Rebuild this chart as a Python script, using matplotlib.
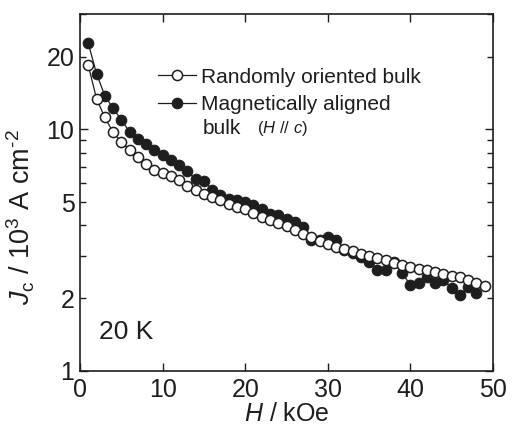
import matplotlib
matplotlib.use("Agg")
import matplotlib.pyplot as plt
from matplotlib.ticker import FixedLocator, FixedFormatter

plt.rcParams['font.family'] = ['Liberation Sans', 'DejaVu Sans']
plt.rcParams['mathtext.fontset'] = 'custom'
plt.rcParams['mathtext.rm'] = 'Liberation Sans'
plt.rcParams['mathtext.it'] = 'Liberation Sans:italic'

# Field values (kOe)
h_random = [1, 2, 3, 4, 5, 6, 7, 8, 9, 10, 11, 12, 13, 14, 15, 16, 17, 18, 19, 20,
            21, 22, 23, 24, 25, 26, 27, 28, 29, 30, 31, 32, 33, 34, 35, 36, 37, 38, 39, 40,
            41, 42, 43, 44, 45, 46, 47, 48, 49]
# Jc (10^3 A/cm^2) randomly oriented bulk
jc_random = [18.4, 13.4, 11.2, 9.75, 8.86, 8.24, 7.69, 7.22, 6.81, 6.6, 6.4, 6.15, 5.81,
             5.63, 5.42, 5.25, 5.09, 4.93, 4.78, 4.66, 4.51, 4.34, 4.21, 4.1, 3.97, 3.83,
             3.7, 3.57, 3.44, 3.34, 3.27, 3.2, 3.13, 3.06, 3.0, 2.93, 2.87, 2.81, 2.75, 2.69,
             2.65, 2.61, 2.56, 2.52, 2.48, 2.44, 2.38, 2.32, 2.25]

h_aligned = [1, 2, 3, 4, 5, 6, 7, 8, 9, 10, 11, 12, 13, 14, 15, 16, 17, 18, 19, 20,
             21, 22, 23, 24, 25, 26, 27, 28, 29, 30, 31, 32, 33, 34, 35, 36, 37, 38, 39, 40,
             41, 42, 43, 44, 45, 46, 47, 48]
# Jc (10^3 A/cm^2) magnetically aligned bulk
jc_aligned = [22.7, 17.0, 13.8, 12.2, 10.96, 9.75, 9.15, 8.73, 8.24, 7.81, 7.45, 7.1,
              6.72, 6.2, 6.1, 5.63, 5.33, 5.17, 5.09, 5.01, 4.85, 4.7, 4.48, 4.41, 4.24,
              4.12, 3.93, 3.47, 3.5, 3.58, 3.47, 3.16, 3.07, 2.96, 2.82, 2.61, 2.61, 2.82,
              2.54, 2.27, 2.31, 2.45, 2.31, 2.38, 2.2, 2.06, 2.22, 2.1]

ink = '#1e1e1e'

fig = plt.figure(figsize=(5.14, 4.26), dpi=100)
ax = fig.add_axes([80 / 514, 55 / 426, 413 / 514, 357 / 426])

ax.plot(h_aligned, jc_aligned, '-o', color=ink, lw=0.9, ms=7.6,
        mfc=ink, mec=ink, mew=0.8, zorder=3, label='Magnetically aligned')
ax.plot(h_random, jc_random, '-o', color=ink, lw=0.9, ms=7.3,
        mfc='white', mec=ink, mew=1.1, zorder=4, label='Randomly oriented bulk')

ax.set_yscale('log')
ax.set_xlim(0, 50)
ax.set_ylim(1, 30)

ax.xaxis.set_major_locator(FixedLocator([0, 10, 20, 30, 40, 50]))
ax.yaxis.set_major_locator(FixedLocator([1, 10]))
ax.yaxis.set_minor_locator(FixedLocator([2, 3, 4, 5, 6, 7, 8, 9, 20, 30]))
ax.yaxis.set_major_formatter(FixedFormatter(['1', '10']))
ax.yaxis.set_minor_formatter(FixedFormatter(['2', '', '', '5', '', '', '', '', '20', '']))

ax.tick_params(axis='both', which='both', direction='in', color=ink, width=1.0,
               labelsize=18, labelcolor=ink, top=True, right=True)
ax.tick_params(axis='both', which='major', length=6)
ax.tick_params(axis='y', which='minor', length=4)
ax.tick_params(axis='y', which='both', pad=4)
ax.tick_params(axis='x', which='major', pad=5)

for s in ax.spines.values():
    s.set_linewidth(1.2)
    s.set_color(ink)

ax.set_xlabel(r'$\it{H}$ / kOe', fontsize=18, color=ink, labelpad=0)
ax.set_ylabel('$\\it{J}_{\\rm c}$ / 10$^{3}$ A cm$^{\u2010 2}$', fontsize=19.5, color=ink)
ax.yaxis.set_label_coords(-0.105, 0.43)

handles, labels = ax.get_legend_handles_labels()
leg = ax.legend(handles[::-1], labels[::-1], loc='upper left',
                bbox_to_anchor=(0.19, 0.85), frameon=False, fontsize=15,
                handlelength=1.8, handletextpad=0.25, labelspacing=0.4,
                borderpad=0, borderaxespad=0)
for t in leg.get_texts():
    t.set_color(ink)

fig.text(203 / 514, 1 - 128 / 426, 'bulk', fontsize=15, color=ink,
         ha='left', va='center')
fig.text(257 / 514, 1 - 129 / 426, r'($\it{H}$ // $\it{c}$)', fontsize=12,
         color=ink, ha='left', va='center')

ax.text(0.045, 0.11, '20 K', transform=ax.transAxes, fontsize=19, color=ink,
        ha='left', va='center')

fig.savefig('out.png', dpi=100)
